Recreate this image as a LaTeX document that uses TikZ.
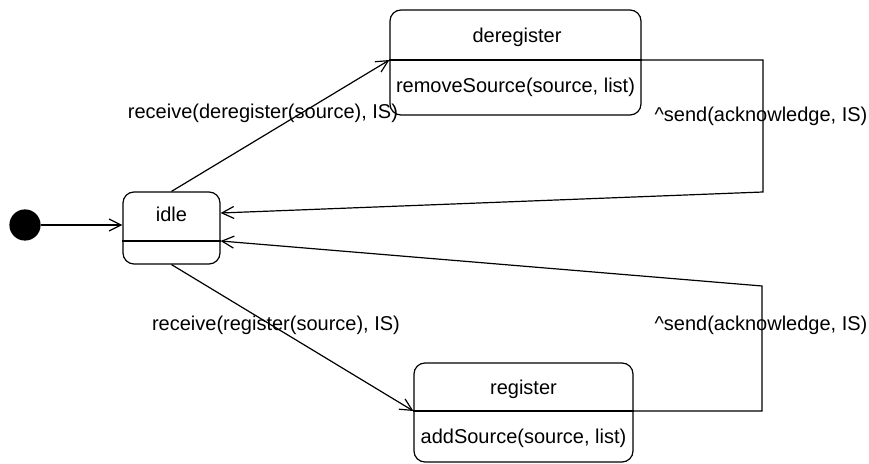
\documentclass[tikz,border=0pt]{standalone}
\usepackage{fontspec}
\setmainfont{Liberation Sans}
\usepackage{tikz}
\usetikzlibrary{arrows.meta}
\usetikzlibrary{calc}
\usetikzlibrary{positioning}

\begin{document}
\begin{tikzpicture}[
  x=0.5pt, y=-0.5pt,
  > = {Straight Barb[length=6pt,width=6pt]},
  every node/.style = {font=\fontsize{10}{12}\selectfont, inner sep=0pt},
  state/.style = {draw, rounded corners=5.5pt},
  init/.style = {draw, fill, circle, minimum size=15pt},
  line width=0.6pt
  ]
	\useasboundingbox (0,0) rectangle (869,464);

	% states
	\node[init] (init) at (25,225) {};
	\node[state, minimum width=48.5pt, minimum height=36pt] (idle) at (171.5,228) {};
	\node[state, minimum width=125.5pt, minimum height=52.5pt] (dereg) at (515.5,62.5) {};
	\node[state, minimum width=109.5pt, minimum height=49.5pt] (reg) at (523.5,412.5) {};

	\node (idle-name) at (171.5,214) {idle};
	\node (dereg-name) at (517,37) {deregister};
	\node (dereg-act) at (515.5,87) {removeSource(source, list)};
	\node (reg-name) at (523.5,389) {register};
	\node (reg-act) at (523.5,438) {addSource(source, list)};

	% dividers
	\coordinate (idle-w) at (idle.west |- 0,241);
	\coordinate (idle-e) at (idle.east |- 0,241);
	\coordinate (dereg-w) at (dereg.west |- 0,60);
	\coordinate (dereg-e) at (dereg.east |- 0,60);
	\coordinate (reg-w) at (reg.west |- 0,411);
	\coordinate (reg-e) at (reg.east |- 0,411);
	\draw (idle-w) -- (idle-e);
	\draw (dereg-w) -- (dereg-e);
	\draw (reg-w) -- (reg-e);

	\coordinate (idle-in) at (idle.east |- 0,213);
	\coordinate (ack1) at (763,192);
	\coordinate (ack2) at (762,286);

	% transitions
	\draw[->] (init) -- (init -| idle.west);
	\draw[->] (idle.north) -- (dereg-w);
	\draw[->] (idle.south) -- (reg-w);
	\draw[->] (dereg-e) -| (ack1) -- (idle-in);
	\draw[->] (reg-e) -| (ack2) -- (idle-e);

	\node (recv-dereg) at (263,113) {receive(deregister(source), IS)};
	\node (recv-reg) at (276,325) {receive(register(source), IS)};
	\node (send1) at (761,116) {\^{}send(acknowledge, IS)};
	\node (send2) at (761,325) {\^{}send(acknowledge, IS)};

\end{tikzpicture}
\end{document}
